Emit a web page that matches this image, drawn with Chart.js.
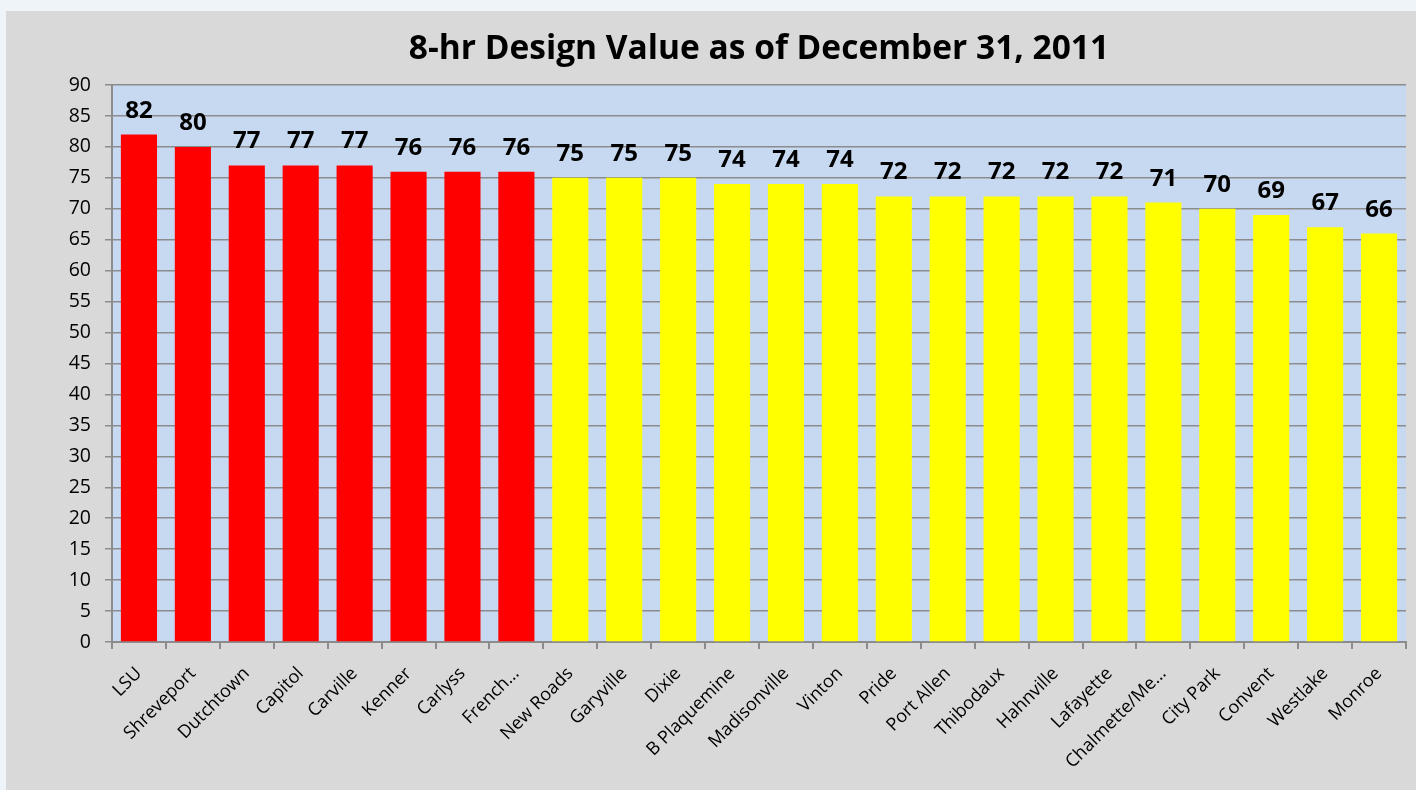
<!DOCTYPE html>
<html>
<head>
<meta charset="utf-8">
<script src="https://cdn.jsdelivr.net/npm/chart.js@4"></script>
<style>
  body { margin: 0; background: #eff4f9; }
  #box { position: absolute; left: 6px; top: 11px; width: 1410px; height: 779px; background: #d9d9d9; }
</style>
</head>
<body>
<div id="box"><canvas id="dv" width="1410" height="779"></canvas></div>
<script>
const sites = ['LSU', 'Shreveport', 'Dutchtown', 'Capitol', 'Carville', 'Kenner', 'Carlyss', 'French…',
  'New Roads', 'Garyville', 'Dixie', 'B Plaquemine', 'Madisonville', 'Vinton', 'Pride', 'Port Allen',
  'Thibodaux', 'Hahnville', 'Lafayette', 'Chalmette/Me…', 'City Park', 'Convent', 'Westlake', 'Monroe'];
const designValues = [82, 80, 77, 77, 77, 76, 76, 76, 75, 75, 75, 74, 74, 74, 72, 72, 72, 72, 72, 71, 70, 69, 67, 66];
const yTicks = [0, 90, 5]; // min, max, step
const standard = 75;

const titleText = '8-hr Design Value as of December 31, 2011';

document.addEventListener('DOMContentLoaded', function () {
	const ctx = document.getElementById('dv').getContext('2d');

	new Chart(ctx, {
		type: 'bar',
		data: {
			labels: sites,
			datasets: [{
				data: designValues,
				backgroundColor: designValues.map(v => v > standard ? '#ff0000' : '#ffff00'),
				barPercentage: 0.67,
				categoryPercentage: 1
			}]
		},
		options: {
			responsive: false,
			animation: false,
			layout: { padding: { top: 74, right: 10, left: 0, bottom: 0 } },
			plugins: {
				legend: { display: false },
				tooltip: { enabled: false }
			},
			scales: {
				x: {
					grid: { drawOnChartArea: false, tickLength: 7, color: '#8c8c8c', lineWidth: 2 },
					border: { color: '#8c8c8c', width: 2 },
					ticks: {
						color: '#000',
						font: { family: "'Open Sans'", size: 18 },
						maxRotation: 45, minRotation: 45,
						autoSkip: false,
						padding: 14
					},
					afterFit: function (scale) { scale.height = 148; }
				},
				y: {
					min: yTicks[0], max: yTicks[1],
					grid: { tickLength: 7, color: '#8c8c8c', lineWidth: 1.5 },
					border: { color: '#8c8c8c', width: 2 },
					ticks: {
						stepSize: yTicks[2],
						color: '#000',
						font: { family: "'Open Sans'", size: 19.5 },
						padding: 14
					},
					afterFit: function (scale) { scale.width = 106; }
				}
			}
		},
		plugins: [{
			id: 'plotBg',
			beforeDraw: function (chart) {
				const a = chart.chartArea;
				const c = chart.ctx;
				c.save();
				c.fillStyle = '#c6d9f1';
				c.fillRect(a.left, a.top, a.right - a.left, a.bottom - a.top);
				c.restore();
			}
		}, {
			id: 'valueLabels',
			afterDatasetsDraw: function (chart) {
				const c = chart.ctx;
				const meta = chart.getDatasetMeta(0);
				c.save();
				c.font = "bold 24px 'Open Sans'";
				c.fillStyle = '#000';
				c.textAlign = 'center';
				c.textBaseline = 'alphabetic';
				meta.data.forEach(function (bar, i) {
					c.fillText(String(designValues[i]), bar.x, bar.y - 17);
				});
				c.restore();
			}
		}, {
			id: 'titleOverPlot',
			afterDraw: function (chart) {
				const a = chart.chartArea;
				const c = chart.ctx;
				c.save();
				c.font = "bold 33.5px 'Open Sans'";
				c.fillStyle = '#000';
				c.textAlign = 'center';
				c.textBaseline = 'middle';
				c.fillText(titleText, (a.left + a.right) / 2, 38);
				c.restore();
			}
		}]
	});
});
</script>
</body>
</html>
